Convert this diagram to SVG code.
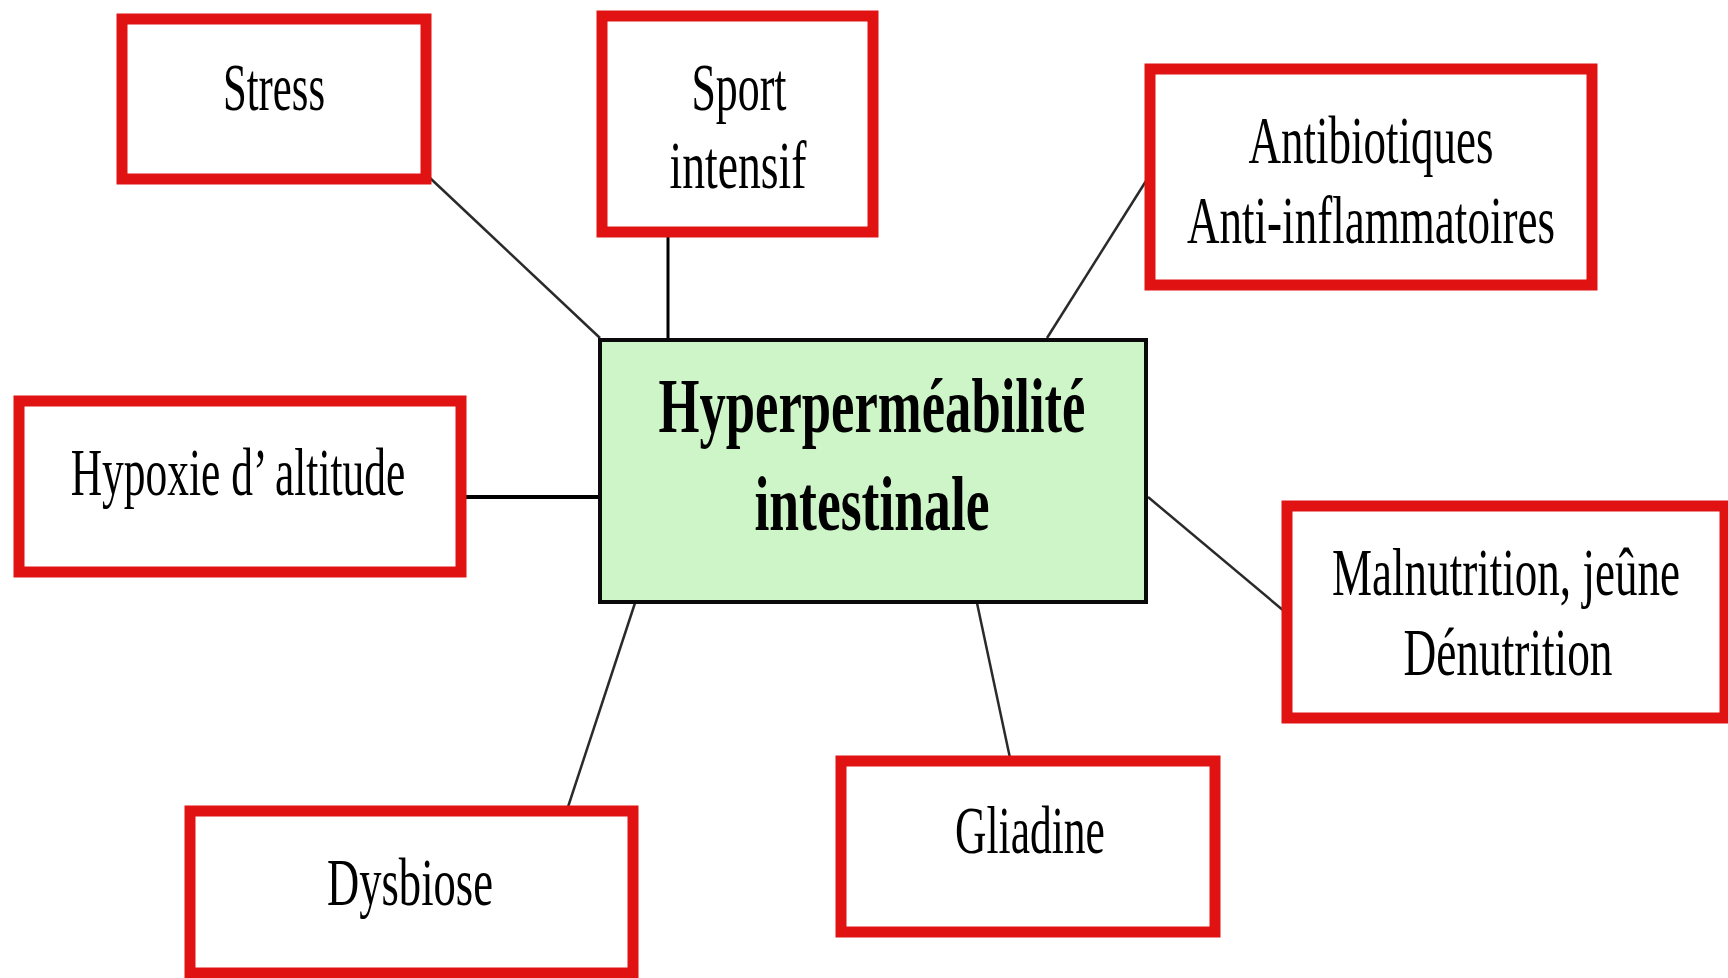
<svg xmlns="http://www.w3.org/2000/svg" width="1728" height="978" viewBox="0 0 1728 978">
<style>
.box{fill:#ffffff;stroke:#e01212;stroke-width:11}
.core{fill:#cdf5c8;stroke:#0a0a0a;stroke-width:4}
.t{font-family:"Liberation Serif","Times New Roman",serif;font-size:68px;fill:#000;text-anchor:middle}
.tb{font-family:"Liberation Serif","Times New Roman",serif;font-size:78px;font-weight:bold;fill:#000;text-anchor:middle}
.c{stroke:#2a2a2a;stroke-width:2.5;fill:none}
.ck{stroke:#000;stroke-width:4;fill:none}
</style>
<rect width="1728" height="978" fill="#ffffff"/>
<g id="connectors">
<line class="c" x1="430" y1="178" x2="600" y2="338"/>
<line class="ck" x1="668" y1="234" x2="668" y2="340" style="stroke-width:3"/>
<line class="c" x1="1146" y1="181" x2="1047" y2="338"/>
<line class="ck" x1="464" y1="497" x2="600" y2="497"/>
<line class="c" x1="1148" y1="497" x2="1284" y2="611"/>
<line class="c" x1="635" y1="603" x2="567" y2="810"/>
<line class="c" x1="977" y1="603" x2="1010" y2="758"/>
</g>
<g id="stress">
<rect class="box" x="122" y="19" width="304" height="160"/>
<text class="t" transform="translate(274,110) scale(0.628,1)">Stress</text>
</g>
<g id="sport">
<rect class="box" x="602" y="16" width="271" height="216"/>
<text class="t" transform="translate(739,110) scale(0.645,1)">Sport</text>
<text class="t" transform="translate(738,188) scale(0.672,1)">intensif</text>
</g>
<g id="antibiotiques">
<rect class="box" x="1150" y="69" width="442" height="216"/>
<text class="t" transform="translate(1371,163) scale(0.662,1)">Antibiotiques</text>
<text class="t" transform="translate(1371,243) scale(0.663,1)">Anti-inflammatoires</text>
</g>
<g id="center">
<rect class="core" x="600" y="340" width="546" height="262"/>
<text class="tb" transform="translate(872,432) scale(0.675,1)">Hyperperméabilité</text>
<text class="tb" transform="translate(872,530) scale(0.687,1)">intestinale</text>
</g>
<g id="hypoxie">
<rect class="box" x="19" y="401" width="442" height="171"/>
<text class="t" transform="translate(238,495) scale(0.639,1)">Hypoxie d’ altitude</text>
</g>
<g id="malnutrition">
<rect class="box" x="1287" y="506" width="438" height="212"/>
<text class="t" transform="translate(1506,595) scale(0.663,1)">Malnutrition, jeûne</text>
<text class="t" transform="translate(1508,675) scale(0.667,1)">Dénutrition</text>
</g>
<g id="dysbiose">
<rect class="box" x="190" y="811" width="443" height="162"/>
<text class="t" transform="translate(410,905) scale(0.656,1)">Dysbiose</text>
</g>
<g id="gliadine">
<rect class="box" x="841" y="761" width="374" height="171"/>
<text class="t" transform="translate(1030,853) scale(0.64,1)">Gliadine</text>
</g>
</svg>
